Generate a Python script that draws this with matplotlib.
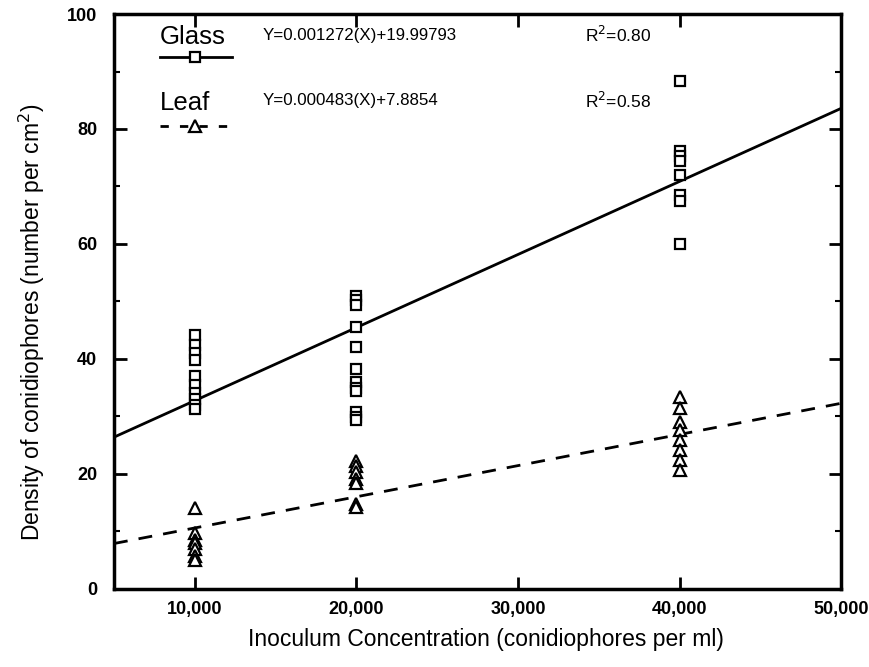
import matplotlib
matplotlib.use("Agg")
import matplotlib.pyplot as plt
from matplotlib.ticker import FixedLocator, FuncFormatter

plt.rcParams['font.family'] = ['Liberation Sans', 'DejaVu Sans']

# data
glass_x = [10000] * 10 + [20000] * 12 + [40000] * 8
glass_y = [44.2, 42.5, 41, 39.8, 37, 35.5, 34, 33, 32, 31.3,
           51, 50.2, 49.4, 45.5, 42, 38.2, 36, 35, 34.4, 30.8, 29.9, 29.4,
           88.3, 76.2, 75.3, 74.4, 72, 68.5, 67.5, 60]
leaf_x = [10000] * 7 + [20000] * 7 + [40000] * 8
leaf_y = [14, 9.7, 8.6, 8.0, 7.0, 5.8, 5.0,
          22.3, 21.3, 20.3, 19.2, 18.5, 14.8, 14.2,
          33.4, 31.4, 29, 27.6, 25.9, 24.1, 22.4, 20.7]

fit_x = [5000, 50000]
glass_fit = [26.4, 83.6]
leaf_fit = [7.9, 32.3]

glass_eq = "Y=0.001272(X)+19.99793"
leaf_eq = "Y=0.000483(X)+7.8854"
glass_r2 = "R$^2$=0.80"
leaf_r2 = "R$^2$=0.58"

x_ticks = [10000, 20000, 30000, 40000, 50000]
y_ticks = [0, 20, 40, 60, 80, 100]
y_minor = [10, 30, 50, 70, 90]

fig = plt.figure(figsize=(8.7, 6.67), dpi=100)
ax = fig.add_axes([0.131, 0.117, 0.836, 0.862])

ax.plot(fit_x, glass_fit, color='black', lw=2)
ax.plot(fit_x, leaf_fit, color='black', lw=2, dashes=(5, 4))
ax.plot(glass_x, glass_y, 's', ms=7.5, mfc='white', mec='black', mew=1.6, ls='none')
ax.plot(leaf_x, leaf_y, '^', ms=9, mfc='white', mec='black', mew=1.6, ls='none')

ax.set_xlim(5000, 50000)
ax.set_ylim(0, 100)
ax.xaxis.set_major_locator(FixedLocator(x_ticks))
ax.yaxis.set_major_locator(FixedLocator(y_ticks))
ax.yaxis.set_minor_locator(FixedLocator(y_minor))
ax.xaxis.set_major_formatter(FuncFormatter(lambda v, p: f"{int(v):,}"))

for s in ax.spines.values():
    s.set_linewidth(2.5)
ax.tick_params(which='major', direction='in', length=9, width=2,
               top=True, right=True, labelsize=13)
ax.tick_params(which='minor', direction='in', length=4, width=1.5, right=True)
ax.tick_params(axis='y', pad=12)
ax.tick_params(axis='x', pad=9)
for lbl in ax.get_xticklabels() + ax.get_yticklabels():
    lbl.set_fontweight('bold')

ax.set_xlabel("Inoculum Concentration (conidiophores per ml)", fontsize=16.5)
ax.set_ylabel("Density of conidiophores (number per cm$^2$)", fontsize=16.5)
ax.xaxis.set_label_coords(0.512, -0.068)
ax.yaxis.set_label_coords(-0.092, 0.464)

# legend block
tr = ax.transAxes
ax.text(0.063, 0.960, "Glass", transform=tr, fontsize=18.5, va='center')
ax.plot([0.063, 0.162], [0.925, 0.925], transform=tr, color='black', lw=2)
ax.plot([0.112], [0.925], 's', transform=tr, ms=7.5, mfc='white', mec='black', mew=1.6)
ax.text(0.063, 0.846, "Leaf", transform=tr, fontsize=18.5, va='center')
ax.plot([0.063, 0.162], [0.805, 0.805], transform=tr, color='black', lw=2, dashes=(3, 4))
ax.plot([0.112], [0.805], '^', transform=tr, ms=9, mfc='white', mec='black', mew=1.6)
ax.text(0.204, 0.963, glass_eq, transform=tr, fontsize=12.2, va='center')
ax.text(0.204, 0.849, leaf_eq, transform=tr, fontsize=12.2, va='center')
ax.text(0.648, 0.963, glass_r2, transform=tr, fontsize=12.5, va='center')
ax.text(0.648, 0.849, leaf_r2, transform=tr, fontsize=12.5, va='center')

fig.savefig("out.png", dpi=100)
